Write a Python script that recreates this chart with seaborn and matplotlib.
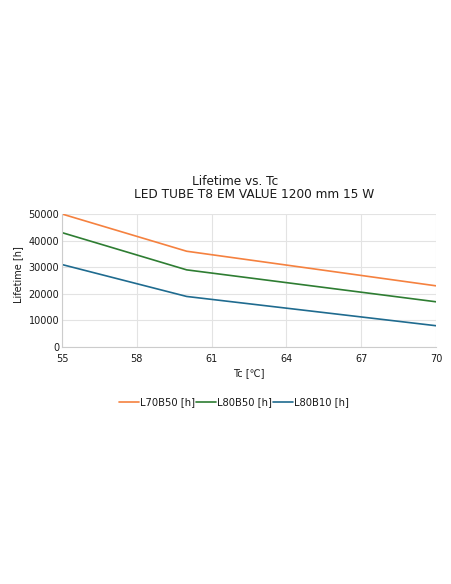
import pandas as pd
import seaborn as sns
import matplotlib.pyplot as plt

# data
tc = [55, 60, 70]
l70b50 = [50000, 36000, 23000]
l80b50 = [43000, 29000, 17000]
l80b10 = [31000, 19000, 8000]

series = ['L70B50 [h]', 'L80B50 [h]', 'L80B10 [h]']
colors = ['#f5813f', '#2e7d32', '#1f6b8f']

df = pd.DataFrame({'Tc': tc * 3,
                   'Lifetime': l70b50 + l80b50 + l80b10,
                   'Series': [s for s in series for _ in tc]})

sns.set_style('whitegrid')
plt.rcParams['font.family'] = ['DejaVu Sans']
plt.rcParams['text.color'] = '#1a1a1a'
plt.rcParams['axes.labelcolor'] = '#1a1a1a'
plt.rcParams['xtick.color'] = '#1a1a1a'
plt.rcParams['ytick.color'] = '#1a1a1a'

W, H = 452, 584
fig = plt.figure(figsize=(W / 100, H / 100), dpi=100)
ax = fig.add_axes([62 / W, 1 - 347 / H, 374 / W, 133 / H])

sns.lineplot(data=df, x='Tc', y='Lifetime', hue='Series',
             palette=colors, linewidth=1.2, ax=ax)

ax.set_xlim(55, 70)
ax.set_ylim(0, 50000)
ax.set_xticks([55, 58, 61, 64, 67, 70])
ax.set_yticks([0, 10000, 20000, 30000, 40000, 50000])
ax.tick_params(labelsize=7, length=0)
ax.tick_params(axis='x', pad=5)
ax.tick_params(axis='y', pad=2)
ax.grid(color='#e3e3e3', linewidth=0.8)
for side in ['top', 'right']:
    ax.spines[side].set_visible(False)
for side in ['left', 'bottom']:
    ax.spines[side].set_color('#cccccc')
    ax.spines[side].set_linewidth(0.8)

ax.set_xlabel('Tc [\u2103]', fontsize=7, labelpad=3)
ax.set_ylabel('Lifetime [h]', fontsize=7)
ax.yaxis.set_label_coords((23 - 62) / 374, (347 - 275) / 133)

# two title lines, each centred on its own
fig.text(235 / W, 1 - 185 / H, 'Lifetime vs. Tc', fontsize=8.7,
         ha='center', va='baseline')
fig.text(254 / W, 1 - 198 / H, 'LED TUBE T8 EM VALUE 1200 mm 15 W',
         fontsize=8.7, ha='center', va='baseline')

ax.legend(loc='center', bbox_to_anchor=(234 / W, 1 - 402 / H),
          bbox_transform=fig.transFigure, ncol=3, frameon=False,
          fontsize=7.2, handlelength=2.0, handletextpad=0.15,
          columnspacing=0.05, borderpad=0, borderaxespad=0)

fig.savefig('out.png', dpi=100)
